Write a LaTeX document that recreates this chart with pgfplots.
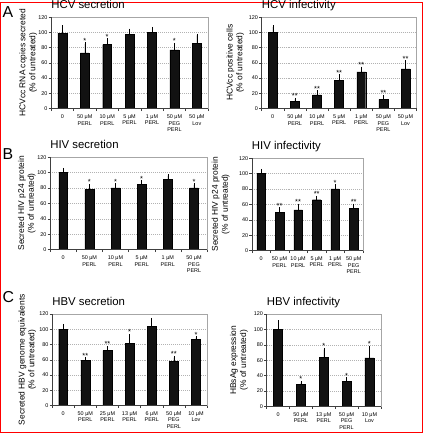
\documentclass[border=0pt]{standalone}
\usepackage{fontspec}
\setmainfont{Liberation Sans}
\usepackage{pgfplots}
\pgfplotsset{compat=1.18}
\newcommand\ticfont{\fontsize{5.5}{6.8}\selectfont}
\newcommand\labfont{\fontsize{8.5}{10}\selectfont}
\newcommand\titfont{\fontsize{11.5}{13}\selectfont}
\newcommand\starfont{\fontsize{7.5}{8}\selectfont}
\newcommand\letfont{\fontsize{16}{18}\selectfont}
\pgfplotsset{
 panel/.style={
  scale only axis, anchor=south west, clip=false,
  ymin=0, ymax=120, ytick={0,20,...,120},
  tick align=outside, xtick pos=bottom, ytick pos=left,
  major tick length=2.5bp,
  tick style={black!75, line width=0.4bp},
  ymajorgrids, grid style={black!30, dash pattern=on 1bp off 1bp, line width=0.4bp},
  axis line style={black!35, line width=0.5bp},
  x tick label as interval,
  xticklabel style={align=center, font=\ticfont},
  yticklabel style={font=\ticfont, inner sep=1bp},
  /pgf/number format/assume math mode=true,
  title style={at={(0,1)}, anchor=base west, font=\titfont, inner sep=0pt, yshift=3bp},
  ylabel style={align=center, font=\labfont, anchor=center},
  after end axis/.code={\draw[black!75, line width=0.5bp] (rel axis cs:0,1) -- (rel axis cs:0,0) -- (rel axis cs:1,0);},
 },
 bars/.style={ybar, bar width=#1, fill=black!93, draw=black, line width=0.4bp,
   error bars/y dir=plus, error bars/y explicit,
   error bars/error bar style={black, line width=0.5bp},
   error bars/error mark options={black, mark size=1.6bp, line width=0.5bp}},
 bars/.default=9bp,
 stars/.style={draw=none, mark=none, nodes near coords, point meta=explicit symbolic,
   nodes near coords style={font=\starfont, anchor=south, inner sep=0.5bp}},
}
\begin{document}
\begin{tikzpicture}
\draw[red, line width=1bp] (0,0) rectangle (425bp,433bp);
\fill[white] (0.5bp,0.5bp) rectangle (424.5bp,432.5bp);
\node[anchor=base west, inner sep=0pt, font=\letfont] at (2bp,418bp) {A};
\node[anchor=base west, inner sep=0pt, font=\letfont] at (2bp,275bp) {B};
\node[anchor=base west, inner sep=0pt, font=\letfont] at (2bp,131bp) {C};

% A left: HCV secretion
\begin{axis}[panel, at={(51bp,326bp)}, width=158bp, height=92bp,
  xmin=-0.5, xmax=6.5, xtick={-0.5,0.5,...,6.5},
  xticklabels={0,{50 μM\\PERL},{10 μM\\PERL},{5 μM\\PERL},{1 μM\\PERL},{50 μM\\PEG\\PERL},{50 μM\\Lov}},
  title={HCV secretion},
  ylabel={HCVcc RNA copies secreted\\(\% of untreated)},
  ylabel style={at={(axis description cs:-0.146,0.5)}}]
\addplot[bars] coordinates {(0,99) +- (0,8) (1,73) +- (0,12) (2,84) +- (0,6) (3,97) +- (0,6) (4,100) +- (0,5) (5,77) +- (0,7) (6,86) +- (0,10)};
\addplot[stars] coordinates {(1,85)[*] (2,90)[*] (5,84)[*]};
\end{axis}

% A right: HCV infectivity
\begin{axis}[panel, at={(263bp,326bp)}, width=156bp, height=92bp,
  xmin=-0.5, xmax=6.5, xtick={-0.5,0.5,...,6.5},
  xticklabels={0,{50 μM\\PERL},{10 μM\\PERL},{5 μM\\PERL},{1 μM\\PERL},{50 μM\\PEG\\PERL},{50 μM\\Lov}},
  title={HCV infectivity},
  ylabel={HCVcc positive cells\\(\% of untreated)},
  ylabel style={at={(axis description cs:-0.170,0.5)}}]
\addplot[bars] coordinates {(0,100) +- (0,7) (1,9) +- (0,3) (2,18) +- (0,4) (3,37) +- (0,6) (4,48) +- (0,5) (5,12) +- (0,4) (6,52) +- (0,9)};
\addplot[stars] coordinates {(1,12)[**] (2,22)[**] (3,43)[**] (4,53)[**] (5,16)[**] (6,61)[**]};
\end{axis}

% B left: HIV secretion
\begin{axis}[panel, at={(50bp,184bp)}, width=158bp, height=93bp,
  xmin=-0.5, xmax=5.5, xtick={-0.5,0.5,...,5.5},
  xticklabels={0,{50 μM\\PERL},{10 μM\\PERL},{5 μM\\PERL},{1 μM\\PERL},{50 μM\\PEG\\PERL}},
  title={HIV secretion},
  ylabel={Secreted HIV p24 protein\\(\% of untreated)},
  ylabel style={at={(axis description cs:-0.149,0.5)}}]
\addplot[bars] coordinates {(0,100) +- (0,4) (1,78) +- (0,5) (2,80) +- (0,4) (3,85) +- (0,3) (4,91) +- (0,5) (5,80) +- (0,4)};
\addplot[stars] coordinates {(1,83)[*] (2,84)[*] (3,88)[*] (5,84)[*]};
\end{axis}

% B right: HIV infectivity
\begin{axis}[panel, at={(253bp,183bp)}, width=112bp, height=93bp,
  xmin=-0.5, xmax=5.5, xtick={-0.5,0.5,...,5.5},
  xticklabels={0,{50 μM\\PERL},{10 μM\\PERL},{5 μM\\PERL},{1 μM\\PERL},{50 μM\\PEG\\PERL}},
  title={HIV infectivity},
  ylabel={Secreted HIV p24 protein\\(\% of untreated)},
  ylabel style={at={(axis description cs:-0.279,0.5)}}]
\addplot[bars=8.5bp] coordinates {(0,100) +- (0,4) (1,50) +- (0,4) (2,53) +- (0,6) (3,66) +- (0,3) (4,80) +- (0,4) (5,55) +- (0,4)};
\addplot[stars] coordinates {(1,54)[**] (2,59)[**] (3,69)[**] (4,84)[*] (5,59)[**]};
\end{axis}

% C left: HBV secretion
\begin{axis}[panel, at={(52bp,27bp)}, width=156bp, height=92bp,
  xmin=-0.5, xmax=6.5, xtick={-0.5,0.5,...,6.5},
  xticklabels={0,{50 μM\\PERL},{25 μM\\PERL},{13 μM\\PERL},{6 μM\\PERL},{50 μM\\PEG\\PERL},{10 μM\\Lov}},
  title={HBV secretion},
  ylabel={Secreted HBV genome equivalents\\(\% of untreated)},
  ylabel style={at={(axis description cs:-0.160,0.5)}}]
\addplot[bars] coordinates {(0,100) +- (0,5) (1,59) +- (0,2) (2,72) +- (0,4) (3,82) +- (0,10) (4,104) +- (0,9) (5,58) +- (0,5) (6,87) +- (0,2)};
\addplot[stars] coordinates {(1,61)[**] (2,76)[**] (3,92)[*] (5,63)[**] (6,89)[*]};
\end{axis}

% C right: HBV infectivity
\begin{axis}[panel, at={(268bp,26bp)}, width=115bp, height=93bp,
  xmin=-0.5, xmax=4.5, xtick={-0.5,0.5,...,4.5},
  xticklabels={0,{50 μM\\PERL},{13 μM\\PERL},{50 μM\\PEG\\PERL},{10 μM\\Lov}},
  title={HBV infectivity},
  ylabel={HBsAg expression\\(\% of untreated)},
  ylabel style={at={(axis description cs:-0.243,0.5)}}]
\addplot[bars] coordinates {(0,100) +- (0,10) (1,29) +- (0,2) (2,64) +- (0,10) (3,33) +- (0,3) (4,63) +- (0,14)};
\addplot[stars] coordinates {(1,31)[*] (2,74)[*] (3,36)[*] (4,77)[*]};
\end{axis}
\end{tikzpicture}
\end{document}
